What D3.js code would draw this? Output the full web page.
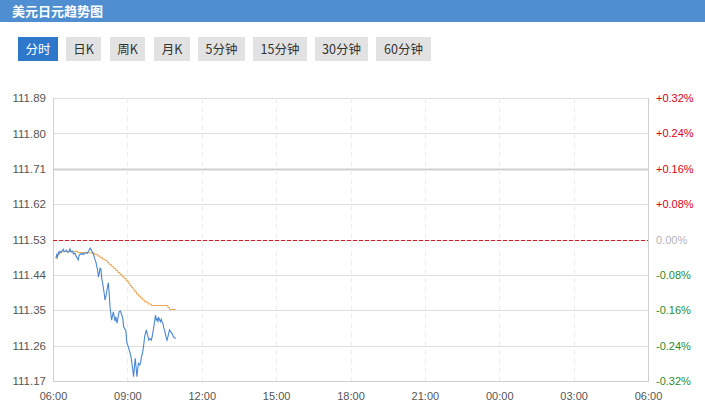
<!DOCTYPE html>
<html><head><meta charset="utf-8">
<script src="https://cdn.jsdelivr.net/npm/d3@7/dist/d3.min.js"></script>
<style>
html,body{margin:0;padding:0;background:#fff;}
svg{display:block;font-family:"Microsoft YaHei","Noto Sans CJK SC","Noto Sans",sans-serif;}
</style></head>
<body><svg id="c" width="705" height="407"></svg>
<script>
const title = "美元日元趋势图";
const tabs = ["分时","日K","周K","月K","5分钟","15分钟","30分钟","60分钟"];
const baseValue = 111.53;
const yTicks = [111.17,111.26,111.35,111.44,111.53,111.62,111.71,111.80,111.89];
const pctLabels = ["-0.32%","-0.24%","-0.16%","-0.08%","0.00%","+0.08%","+0.16%","+0.24%","+0.32%"];
const xTickLabels = ["06:00","09:00","12:00","15:00","18:00","21:00","00:00","03:00","06:00"];
const priceTimes = ["06:07","06:09","06:11","06:13","06:15","06:17","06:20","06:23","06:25","06:27","06:30","06:33","06:36","06:39","06:41","06:44","06:47","06:50","06:53","06:56","06:58","07:01","07:03","07:06","07:09","07:12","07:14","07:17","07:20","07:23","07:26","07:30","07:33","07:36","07:38","07:42","07:44","07:46","07:48","07:50","07:52","07:54","07:56","07:58","08:00","08:02","08:04","08:06","08:08","08:10","08:12","08:14","08:16","08:18","08:20","08:22","08:24","08:26","08:28","08:30","08:32","08:35","08:37","08:40","08:43","08:46","08:49","08:51","08:54","08:56","08:59","09:02","09:04","09:07","09:09","09:11","09:13","09:15","09:17","09:19","09:21","09:23","09:25","09:27","09:30","09:32","09:34","09:36","09:38","09:40","09:42","09:44","09:46","09:48","09:50","09:52","09:55","09:58","10:00","10:02","10:04","10:06","10:08","10:10","10:12","10:14","10:16","10:18","10:20","10:22","10:24","10:26","10:28","10:30","10:33","10:36","10:38","10:40","10:42","10:44","10:47","10:49","10:51","10:54","10:57"];
const priceValues = [111.482,111.491,111.486,111.497,111.494,111.500,111.497,111.503,111.505,111.499,111.500,111.503,111.497,111.500,111.506,111.498,111.500,111.493,111.496,111.487,111.484,111.478,111.489,111.494,111.492,111.495,111.492,111.494,111.497,111.495,111.500,111.508,111.503,111.496,111.492,111.478,111.472,111.461,111.452,111.435,111.444,111.457,111.455,111.431,111.420,111.406,111.392,111.376,111.385,111.397,111.410,111.420,111.392,111.359,111.340,111.325,111.336,111.346,111.335,111.322,111.333,111.317,111.330,111.346,111.348,111.340,111.328,111.308,111.302,111.300,111.266,111.258,111.250,111.240,111.230,111.215,111.200,111.181,111.205,111.228,111.206,111.181,111.200,111.215,111.211,111.216,111.232,111.238,111.250,111.266,111.285,111.292,111.300,111.290,111.283,111.274,111.278,111.274,111.283,111.295,111.308,111.322,111.338,111.325,111.329,111.322,111.331,111.326,111.321,111.327,111.320,111.317,111.305,111.300,111.285,111.274,111.282,111.291,111.300,111.297,111.292,111.290,111.283,111.280,111.278];
const avgTimes = ["06:07","06:10","06:14","06:20","06:40","07:00","07:20","07:34","07:40","07:48","07:54","08:00","08:06","08:12","08:16","08:22","08:27","08:32","08:37","08:42","08:47","08:52","08:57","09:02","09:06","09:10","09:14","09:18","09:22","09:27","09:32","09:37","09:42","09:50","09:58","10:38","10:42","10:57"];
const avgValues = [111.482,111.490,111.496,111.499,111.500,111.497,111.496,111.496,111.492,111.488,111.484,111.480,111.476,111.471,111.466,111.461,111.456,111.451,111.446,111.441,111.436,111.431,111.425,111.419,111.413,111.408,111.402,111.397,111.391,111.386,111.381,111.376,111.371,111.366,111.362,111.357,111.352,111.352];

(function(){
const svg = d3.select("#c");
const W = 705;
const pL = 53, pR = 648, pT = 98, pB = 381;

// header
svg.append("rect").attr("x",0).attr("y",0).attr("width",W).attr("height",22).attr("fill","#4f8fd1");
svg.append("text").attr("x",12).attr("y",15.5).attr("fill","#fff").attr("font-size",13).attr("font-weight","bold").text(title);

// tabs
const tabX = [18,66,110,154,198,253,315,376];
const tabW = [40,35,35,36,47,54,53,55];
tabs.forEach((t,i)=>{
  svg.append("rect").attr("x",tabX[i]).attr("y",37).attr("width",tabW[i]).attr("height",24)
    .attr("fill", i===0 ? "#2e78cc" : "#e2e2e2");
  svg.append("text").attr("x",tabX[i]+tabW[i]/2).attr("y",53.5).attr("text-anchor","middle")
    .attr("font-size",12.5).attr("fill", i===0 ? "#fff" : "#333").text(t);
});

// scales
const parse = s => { const [h,m]=s.split(":").map(Number); return new Date(2000,0,1,h,m); };
const x = d3.scaleTime().domain([new Date(2000,0,1,6,0), new Date(2000,0,2,6,0)]).range([pL,pR]);
const y = d3.scaleLinear().domain([111.17,111.89]).range([pB,pT]);
const xTickDates = d3.range(9).map(i=>new Date(2000,0,1,6+3*i,0));

// horizontal grid
yTicks.forEach((v)=>{
  const special = Math.abs(v-111.71)<1e-6;
  svg.append("line").attr("x1",pL).attr("x2",pR).attr("y1",Math.round(y(v))+0.5).attr("y2",Math.round(y(v))+0.5)
    .attr("stroke", special ? "#cfcfcf" : "#dedede")
    .attr("stroke-width", special ? 2 : 1);
});
// vertical dashed grid
xTickDates.slice(1,-1).forEach(d=>{
  svg.append("line").attr("x1",Math.round(x(d))+0.5).attr("x2",Math.round(x(d))+0.5).attr("y1",pT).attr("y2",pB)
    .attr("stroke","#ededed").attr("stroke-dasharray","5,4");
});
// frame
svg.append("line").attr("x1",pL+0.5).attr("x2",pL+0.5).attr("y1",pT).attr("y2",pB+1).attr("stroke","#cfcfcf");
svg.append("line").attr("x1",pR+0.5).attr("x2",pR+0.5).attr("y1",pT).attr("y2",pB+1).attr("stroke","#cfcfcf");
svg.append("line").attr("x1",pL).attr("x2",pR+1).attr("y1",pB+0.5).attr("y2",pB+0.5).attr("stroke","#cfcfcf");

// left axis labels
const yAxisL = d3.axisLeft(y).tickValues(yTicks).tickFormat(d3.format(".2f")).tickSize(0).tickPadding(7);
const gl = svg.append("g").attr("transform",`translate(${pL},0)`).call(yAxisL);
gl.select(".domain").remove();
gl.selectAll("text").attr("font-size",11.5).attr("fill","#555").style("font-family","inherit");

// right axis labels
const yAxisR = d3.axisRight(y).tickValues(yTicks).tickFormat((d,i)=>pctLabels[i]).tickSize(0).tickPadding(8);
const gr = svg.append("g").attr("transform",`translate(${pR},0)`).call(yAxisR);
gr.select(".domain").remove();
gr.selectAll("text").attr("font-size",11).style("font-family","inherit")
  .attr("fill",(d)=> d>baseValue+1e-6 ? "#d9001b" : (d<baseValue-1e-6 ? "#2b8a2b" : "#b5b5b5"));

// x axis labels
const xAxis = d3.axisBottom(x).tickValues(xTickDates).tickFormat((d,i)=>xTickLabels[i]).tickSize(0).tickPadding(11);
const gx = svg.append("g").attr("transform",`translate(0,${pB})`).call(xAxis);
gx.select(".domain").remove();
gx.selectAll("text").attr("font-size",11).attr("fill","#555").style("font-family","inherit");

// base line
svg.append("line").attr("x1",pL).attr("x2",pR).attr("y1",Math.round(y(baseValue))+0.5).attr("y2",Math.round(y(baseValue))+0.5)
  .attr("stroke","#cc1f2a").attr("stroke-dasharray","4,2");

// avg line
const avgData = avgTimes.map((t,i)=>({t:parse(t),v:avgValues[i]}));
svg.append("path").datum(avgData).attr("fill","none").attr("stroke","#e9a650").attr("stroke-width",1)
  .attr("d", d3.line().x(d=>x(d.t)).y(d=>y(d.v)).curve(d3.curveStepAfter));

// price line
const priceData = priceTimes.map((t,i)=>({t:parse(t),v:priceValues[i]}));
svg.append("path").datum(priceData).attr("fill","none").attr("stroke","#4a86d4").attr("stroke-width",1.1)
  .attr("d", d3.line().x(d=>x(d.t)).y(d=>y(d.v)));
})();
</script></body></html>
